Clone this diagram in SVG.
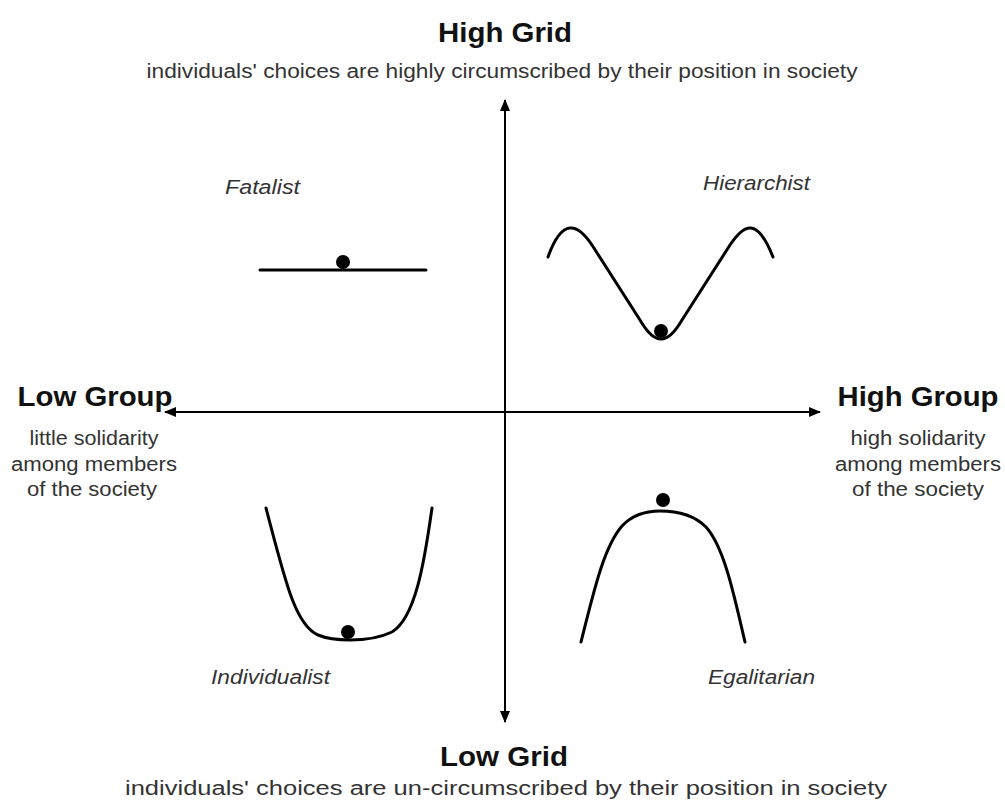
<svg xmlns="http://www.w3.org/2000/svg" width="1005" height="803" viewBox="0 0 1005 803">
<defs>
<marker id="ah" viewBox="0 0 12 10" refX="11" refY="5" markerWidth="12" markerHeight="10" markerUnits="userSpaceOnUse" orient="auto">
<path d="M0,0 L12,5 L0,10 Z" fill="#000"/>
</marker>
<style>
.title{font-family:"Liberation Sans",Arial,sans-serif;font-weight:bold;font-size:27px;fill:#111;text-anchor:middle}
.sub{font-family:"Liberation Sans",Arial,sans-serif;font-size:20px;fill:#333;text-anchor:middle}
.lab{font-family:"Liberation Sans",Arial,sans-serif;font-style:italic;font-size:20px;fill:#333}
.curve{fill:none;stroke:#000;stroke-width:3;stroke-linecap:round;stroke-linejoin:round}
.ball{fill:#000}
.axis{stroke:#000;stroke-width:2;fill:none}
</style>
</defs>
<rect width="1005" height="803" fill="#fff"/>
<g id="connectors">
<line class="axis" x1="505" y1="412" x2="505" y2="100" marker-end="url(#ah)"/>
<line class="axis" x1="505" y1="412" x2="505" y2="722" marker-end="url(#ah)"/>
<line class="axis" x1="505" y1="412" x2="165" y2="412" marker-end="url(#ah)"/>
<line class="axis" x1="505" y1="412" x2="820" y2="412" marker-end="url(#ah)"/>
</g>
<g id="high-grid">
<text class="title" x="505" y="42" textLength="134" lengthAdjust="spacingAndGlyphs">High Grid</text>
<text class="sub" x="502" y="78" textLength="711" lengthAdjust="spacingAndGlyphs">individuals' choices are highly circumscribed by their position in society</text>
</g>
<g id="low-grid">
<text class="title" x="504" y="766" textLength="128" lengthAdjust="spacingAndGlyphs">Low Grid</text>
<text class="sub" x="506" y="795" textLength="762" lengthAdjust="spacingAndGlyphs">individuals' choices are un-circumscribed by their position in society</text>
</g>
<g id="low-group">
<text class="title" x="95" y="406" textLength="155" lengthAdjust="spacingAndGlyphs">Low Group</text>
<text class="sub" x="94" y="445" textLength="129" lengthAdjust="spacingAndGlyphs">little solidarity</text>
<text class="sub" x="94" y="471" textLength="166" lengthAdjust="spacingAndGlyphs">among members</text>
<text class="sub" x="92" y="496" textLength="130" lengthAdjust="spacingAndGlyphs">of the society</text>
</g>
<g id="high-group">
<text class="title" x="918" y="406" textLength="161" lengthAdjust="spacingAndGlyphs">High Group</text>
<text class="sub" x="918" y="445" textLength="135" lengthAdjust="spacingAndGlyphs">high solidarity</text>
<text class="sub" x="918" y="471" textLength="166" lengthAdjust="spacingAndGlyphs">among members</text>
<text class="sub" x="918" y="496" textLength="132" lengthAdjust="spacingAndGlyphs">of the society</text>
</g>
<g id="fatalist">
<text class="lab" x="225" y="194" textLength="75" lengthAdjust="spacingAndGlyphs">Fatalist</text>
<line class="curve" x1="260" y1="270" x2="426" y2="270"/>
<circle class="ball" cx="343" cy="262" r="7"/>
</g>
<g id="hierarchist">
<text class="lab" x="703" y="190" textLength="107" lengthAdjust="spacingAndGlyphs">Hierarchist</text>
<path class="curve" d="M548,257 Q558,229 570,228 Q580,227 592,245 L640,320 Q651,339 661,339 Q671,339 682,320 L730,245 Q742,227 751,228 Q762,229 773,257"/>
<circle class="ball" cx="661" cy="331" r="7"/>
</g>
<g id="individualist">
<text class="lab" x="211" y="684" textLength="119" lengthAdjust="spacingAndGlyphs">Individualist</text>
<path class="curve" d="M266,508 C285,580 295,625 318,635 Q330,640 350,640 Q375,640 392,632 C415,618 424,565 432,508"/>
<circle class="ball" cx="348" cy="632" r="7"/>
</g>
<g id="egalitarian">
<text class="lab" x="708" y="684" textLength="107" lengthAdjust="spacingAndGlyphs">Egalitarian</text>
<path class="curve" d="M581,642 C593,595 603,548 622,526 Q636,511 660,511 Q690,511 706,527 C725,548 735,600 745,642"/>
<circle class="ball" cx="663" cy="500" r="7"/>
</g>
</svg>
